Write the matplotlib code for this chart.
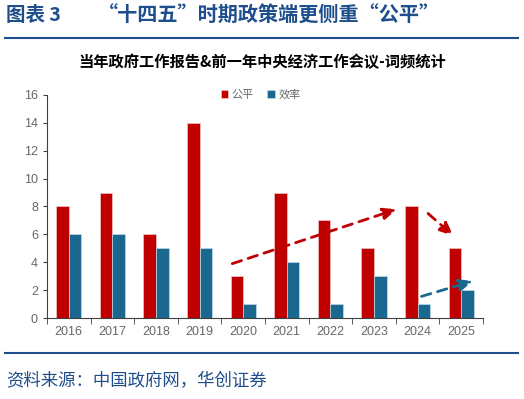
import matplotlib.pyplot as plt
import numpy as np

plt.rcParams['font.family'] = ['Noto Sans CJK SC', 'DejaVu Sans']

years = ['2016', '2017', '2018', '2019', '2020', '2021', '2022', '2023', '2024', '2025']
fair = [8, 9, 6, 14, 3, 9, 7, 5, 8, 5]        # 公平
effic = [6, 6, 5, 5, 1, 4, 1, 3, 1, 2]        # 效率

# trend arrows (start, end) in data coords: (category index, value)
red_arrows = [((3.75, 3.9), (7.52, 7.8)), ((8.24, 7.5), (8.82, 5.9))]
blue_arrows = [((8.09, 1.55), (9.27, 2.65))]

RED = '#C00000'
BLUE = '#1A6890'
NAVY = '#1F4E8C'

fig = plt.figure(figsize=(5.24, 3.99), dpi=100)
ax = fig.add_axes([0.0897, 0.203, 0.832, 0.559])

x = np.arange(len(years))
w = 0.29
ax.bar(x - w/2, fair, w, color=RED, edgecolor='#f2c4c4', linewidth=0.5, label='公平')
ax.bar(x + w/2, effic, w, color=BLUE, edgecolor='#c4dbe6', linewidth=0.5, label='效率')

arrow_style = '-|>,head_length=0.8,head_width=0.35'
for (s, e) in red_arrows:
    ax.annotate('', xy=e, xytext=s,
                arrowprops=dict(arrowstyle=arrow_style, color=RED, lw=2,
                                linestyle=(0, (3.5, 2.5)), shrinkA=0, shrinkB=0))
for (s, e) in blue_arrows:
    ax.annotate('', xy=e, xytext=s,
                arrowprops=dict(arrowstyle=arrow_style, color=BLUE, lw=2,
                                linestyle=(0, (3.5, 2.5)), shrinkA=0, shrinkB=0))

ax.set_xlim(-0.5, len(years) - 0.5)
ax.set_ylim(0, 16)
ax.set_yticks(range(0, 17, 2))
ax.set_xticks(x)
ax.set_xticklabels(years)
ax.set_xticks(np.arange(-0.5, len(years)), minor=True)
ax.tick_params(axis='x', which='major', length=0, pad=6)
ax.tick_params(axis='x', which='minor', length=4, color='#404040')
ax.tick_params(axis='y', length=3, color='#404040')
ax.tick_params(labelsize=9, labelcolor='#666666')
for lbl in ax.get_xticklabels() + ax.get_yticklabels():
    lbl.set_family(['Liberation Sans', 'DejaVu Sans'])
for sp in ['top', 'right']:
    ax.spines[sp].set_visible(False)
for sp in ['left', 'bottom']:
    ax.spines[sp].set_color('#404040')
    ax.spines[sp].set_linewidth(0.8)

ax.legend(loc='center', bbox_to_anchor=(0.49, 1.0), ncol=2, frameon=False,
          handlelength=0.7, handleheight=0.7, handletextpad=0.3, columnspacing=1.2,
          prop={'size': 8}, labelcolor='#666666')

fig.text(6/524, 0.962, '图表 3', fontsize=14, fontweight='bold', color=NAVY, va='center')
fig.text(98/524, 0.962, '“十四五”时期政策端更侧重“公平”', fontsize=14.5,
         fontweight='bold', color=NAVY, va='center')
fig.add_artist(plt.Line2D([0.01, 0.988], [0.905, 0.905], color=NAVY, lw=1.5))
fig.text(0.5, 0.845, '当年政府工作报告&前一年中央经济工作会议-词频统计', fontsize=11,
         fontweight='bold', color='black', ha='center', va='center')
fig.add_artist(plt.Line2D([0.01, 0.988], [0.115, 0.115], color=NAVY, lw=1.5))
fig.text(0.012, 0.045, '资料来源：中国政府网，华创证券', fontsize=12.5, style='italic',
         color=NAVY, va='center')

fig.savefig('out.png', dpi=100)
